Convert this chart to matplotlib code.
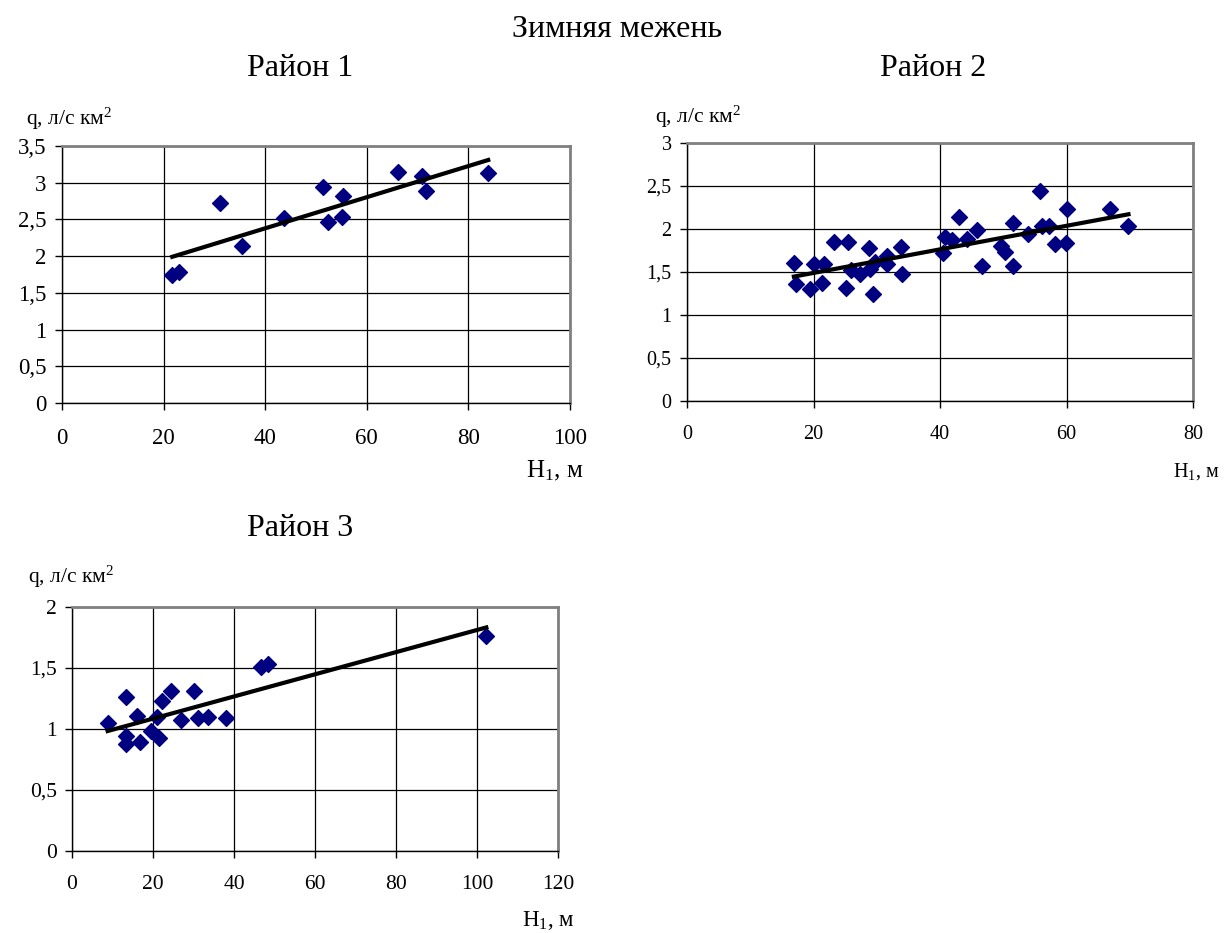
import numpy as np
import matplotlib.pyplot as plt
from matplotlib.ticker import FuncFormatter, MultipleLocator

plt.rcParams['font.family'] = ['Liberation Serif', 'DejaVu Serif']
plt.rcParams['mathtext.fontset'] = 'custom'
plt.rcParams['mathtext.rm'] = 'Liberation Serif'
plt.rcParams['mathtext.it'] = 'Liberation Serif:italic'

# Район 1
h1_r1 = [21.7, 23.0, 31.2, 35.5, 43.7, 51.3, 52.3, 55.4, 55.1, 66.1, 70.9, 71.6, 83.9]
q_r1 = [1.74, 1.79, 2.72, 2.14, 2.52, 2.94, 2.47, 2.82, 2.53, 3.15, 3.09, 2.89, 3.13]

# Район 2
h1_r2 = [16.9, 17.2, 19.5, 20.0, 21.6, 21.3, 23.2, 25.4, 25.1, 26.0, 27.4, 28.7, 29.0,
         29.8, 29.4, 31.6, 31.6, 33.8, 34.0, 40.4, 40.8, 41.9, 43.0, 44.2, 45.8, 46.7,
         49.7, 50.2, 51.5, 51.5, 53.9, 55.8, 56.2, 57.2, 58.2, 60.1, 59.9, 66.8, 69.8]
q_r2 = [1.61, 1.36, 1.30, 1.59, 1.59, 1.37, 1.85, 1.85, 1.31, 1.52, 1.48, 1.78, 1.54,
        1.62, 1.24, 1.69, 1.59, 1.79, 1.48, 1.72, 1.91, 1.87, 2.14, 1.88, 1.99, 1.57,
        1.80, 1.73, 2.07, 1.57, 1.94, 2.44, 2.04, 2.04, 1.82, 2.23, 1.84, 2.23, 2.03]

# Район 3
h1_r3 = [8.8, 13.4, 13.4, 13.4, 16.1, 16.7, 19.5, 21.0, 21.6, 22.2, 24.5, 26.9, 30.0,
         31.0, 33.7, 38.1, 46.7, 48.5, 102.3]
q_r3 = [1.05, 1.26, 0.94, 0.88, 1.11, 0.89, 0.98, 1.10, 0.93, 1.23, 1.31, 1.07, 1.31,
        1.09, 1.10, 1.09, 1.51, 1.53, 1.76]

comma = FuncFormatter(lambda v, p: ('%g' % v).replace('.', ','))

W, H = 1224, 933


def panel(box, x, y, xmax, ymax, fs, xpad):
    l, t, r, b = box
    ax = fig.add_axes([l / W, 1 - b / H, (r - l) / W, (b - t) / H])
    ax.scatter(x, y, marker='D', s=65, color='#000080', zorder=3)
    # linear trend line over the data range
    k, c = np.polyfit(x, y, 1)
    xl = np.array([min(x), max(x)])
    ax.plot(xl, k * xl + c, color='black', lw=3, zorder=4)
    ax.set_xlim(0, xmax)
    ax.set_ylim(0, ymax)
    ax.xaxis.set_major_locator(MultipleLocator(20))
    ax.yaxis.set_major_locator(MultipleLocator(0.5))
    ax.yaxis.set_major_formatter(comma)
    ax.grid(True, color='black', lw=0.9)
    ax.set_axisbelow(True)
    for s in ['top', 'right']:
        ax.spines[s].set_color('#808080')
        ax.spines[s].set_linewidth(2)
    for s in ['left', 'bottom']:
        ax.spines[s].set_color('black')
        ax.spines[s].set_linewidth(1)
    ax.tick_params(direction='out', length=5, width=1, labelsize=fs)
    ax.tick_params(axis='x', pad=xpad)
    ax.tick_params(axis='y', pad=6)
    return ax


fig = plt.figure(figsize=(W / 100, H / 100), dpi=100)

panel((62, 146, 570, 403), h1_r1, q_r1, 100, 3.5, 16.5, 13)
panel((687, 143, 1193, 401), h1_r2, q_r2, 80, 3, 14.5, 12)
panel((72, 607, 558, 851), h1_r3, q_r3, 120, 2, 15.5, 12)

fig.text(617 / W, 1 - 37 / H, 'Зимняя межень', ha='center', va='baseline', fontsize=23)
fig.text(300 / W, 1 - 76 / H, 'Район 1', ha='center', va='baseline', fontsize=23)
fig.text(933 / W, 1 - 76 / H, 'Район 2', ha='center', va='baseline', fontsize=23)
fig.text(300 / W, 1 - 536 / H, 'Район 3', ha='center', va='baseline', fontsize=23)

ylab = 'q, л/с км$^2$'
fig.text(26 / W, 1 - 125 / H, ylab, ha='left', va='baseline', fontsize=15.5)
fig.text(655 / W, 1 - 123 / H, ylab, ha='left', va='baseline', fontsize=15.5)
fig.text(28 / W, 1 - 583 / H, ylab, ha='left', va='baseline', fontsize=15.5)

xlab = 'H$_1$, м'
fig.text(583 / W, 1 - 477 / H, xlab, ha='right', va='baseline', fontsize=18)
fig.text(1220 / W, 1 - 477 / H, xlab, ha='right', va='baseline', fontsize=14.5)
fig.text(575 / W, 1 - 926 / H, xlab, ha='right', va='baseline', fontsize=16.5)

fig.savefig('out.png', dpi=100)
